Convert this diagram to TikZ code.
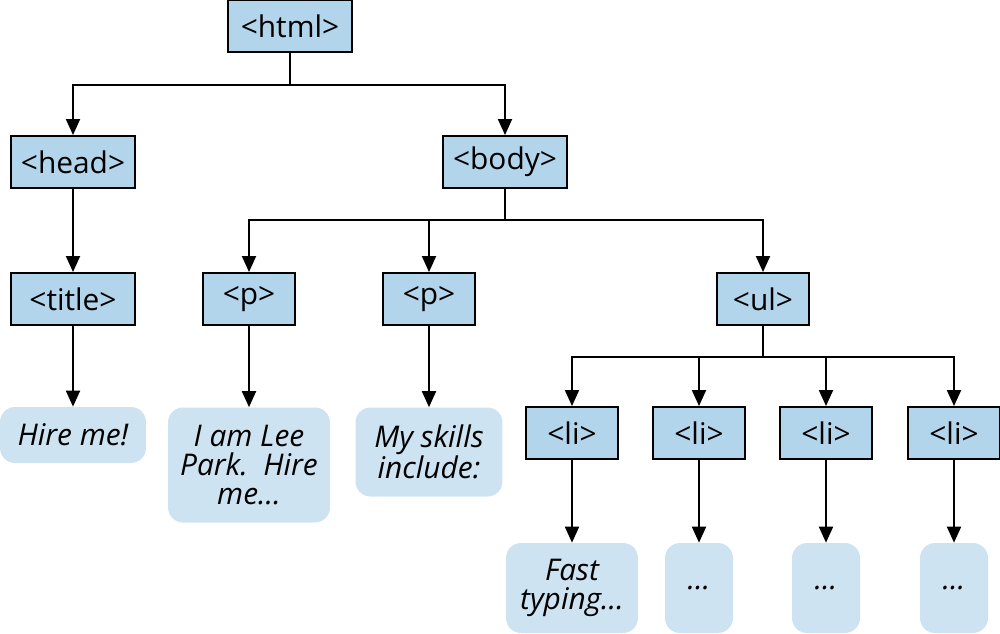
\documentclass[tikz,border=0pt]{standalone}
\usepackage{fontspec}
\setmainfont{Open Sans}
\usetikzlibrary{arrows.meta}
\definecolor{tagblue}{RGB}{179,213,236}
\definecolor{leafblue}{RGB}{206,227,241}
\tikzset{
  tag/.style={draw=black, fill=tagblue, line width=1.1pt, minimum height=1.04cm,
    minimum width=1.84cm, inner sep=0pt, font=\fontsize{17}{20}\selectfont},
  leaf/.style={fill=leafblue, rounded corners=0.3cm, inner sep=0pt, align=center,
    font=\fontsize{17}{16.5}\selectfont\itshape},
  link/.style={line width=1.1pt},
  arrow/.style={link, -{Triangle[width=0.28cm,length=0.32cm]}}
}

\begin{document}
\begin{tikzpicture}[x=0.02cm, y=-0.02cm]
  \useasboundingbox (0,0) rectangle (1000,633);

  % Define nodes
  \node[tag, minimum width=2.48cm] (html)  at (290,26)  {<html>};
  \node[tag, minimum width=2.48cm] (head)  at (73,162)  {<head>};
  \node[tag, minimum width=2.48cm] (body)  at (505,162) {<body>};
  \node[tag, minimum width=2.48cm] (title) at (73,299)  {<title>};
  \node[tag] (p1) at (249,299) {<p>};
  \node[tag] (p2) at (429,299) {<p>};
  \node[tag] (ul) at (763,299) {<ul>};
  \foreach \i/\x in {1/572, 2/699, 3/826, 4/954}
    \node[tag] (li\i) at (\x,433) {<li>};

  \node[leaf, minimum width=2.92cm, minimum height=1.12cm] (hire)   at (73,435)  {Hire me!};
  \node[leaf, minimum width=3.24cm, minimum height=2.3cm]  (lee)    at (249,465) {I am Lee\\Park.~~Hire\\me…};
  \node[leaf, minimum width=2.94cm, minimum height=1.78cm] (skills) at (429,452) {My skills\\include:};
  \node[leaf, minimum width=2.64cm, minimum height=1.8cm]  (text1)  at (572,588) {Fast\\typing…};
  \foreach \i/\x in {2/699, 3/826, 4/954}
    \node[leaf, minimum width=1.36cm, minimum height=1.8cm] (text\i) at (\x,588) {…};

  \coordinate (jhtml) at (290,85);
  \coordinate (jbody) at (505,220);
  \coordinate (jul)   at (763,357);

  % Connect the nodes
  \draw[link]  (html.south) -- (jhtml);
  \draw[arrow] (jhtml) -| (head.north);
  \draw[arrow] (jhtml) -| (body.north);
  \draw[arrow] (head.south) -- (title.north);
  \draw[arrow] (title.south) -- (hire.north);

  \draw[link]  (body.south) -- (jbody);
  \draw[arrow] (jbody) -| (p1.north);
  \draw[arrow] (jbody) -| (p2.north);
  \draw[arrow] (jbody) -| (ul.north);
  \draw[arrow] (p1.south) -- (lee.north);
  \draw[arrow] (p2.south) -- (skills.north);

  \draw[link]  (ul.south) -- (jul);
  \foreach \i in {1,...,4} {
    \draw[arrow] (jul) -| (li\i.north);
    \draw[arrow] (li\i.south) -- (text\i.north);
  }

\end{tikzpicture}
\end{document}
